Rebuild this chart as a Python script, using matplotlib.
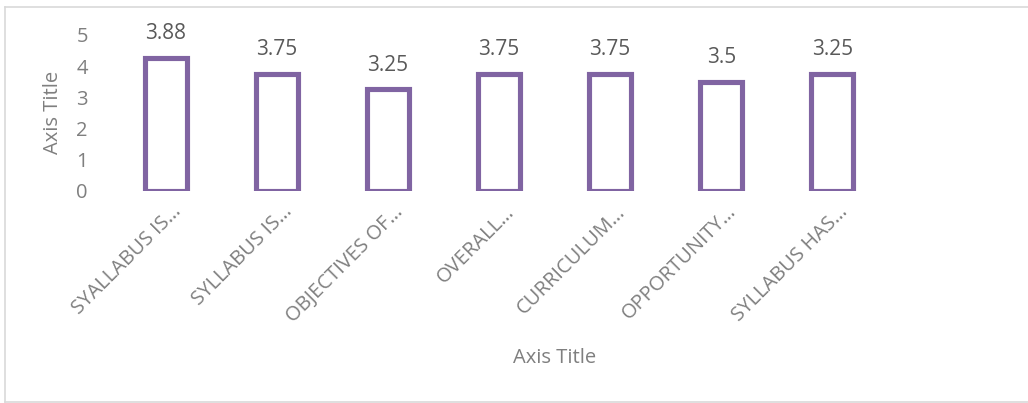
import matplotlib

matplotlib.use("Agg")

import matplotlib.pyplot as plt
from matplotlib.lines import Line2D

categories = [
    "SYALLABUS IS…",
    "SYLLABUS IS…",
    "OBJECTIVES OF…",
    "OVERALL…",
    "CURRICULUM…",
    "OPPORTUNITY…",
    "SYLLABUS HAS…",
]
bar_values = [4.25, 3.75, 3.25, 3.75, 3.75, 3.5, 3.75]
label_texts = ["3.88", "3.75", "3.25", "3.75", "3.75", "3.5", "3.25"]

PURPLE = "#8064A2"
GREY = "#7F7F7F"
DARK = "#595959"
W, H = 1028, 403

plt.rcParams["font.family"] = ["Open Sans", "DejaVu Sans"]

fig = plt.figure(figsize=(W / 100, H / 100), dpi=100)
ax = fig.add_axes([110.1 / W, 1 - 190.8 / H, (887.9 - 110.1) / W, (190.8 - 34.8) / H])

x = list(range(len(categories)))
ax.bar(x, bar_values, width=0.38, facecolor="white", edgecolor=PURPLE, linewidth=3.7)

for xi, v, t in zip(x, bar_values, label_texts):
    ax.annotate(t, xy=(xi, v), xytext=(0, 13.5), textcoords="offset points",
                ha="center", va="baseline", fontsize=15, color=DARK)

# category labels, rotated like the tick labels of the original
for xi, c in zip(x, categories):
    ax.annotate(c, xy=(xi, 0), xycoords=("data", "axes fraction"),
                xytext=(11.5, -15.5), textcoords="offset points",
                rotation=45, rotation_mode="anchor", ha="right", va="baseline",
                fontsize=14.5, color=GREY)

ax.set_xlim(-0.5, len(categories) - 0.5)
ax.set_ylim(0, 5)
ax.set_xticks(x)
ax.set_xticklabels([])
ax.set_yticks(range(6))
ax.tick_params(axis="both", length=0, labelsize=14.5, labelcolor=GREY)
ax.tick_params(axis="y", pad=16)
for s in ax.spines.values():
    s.set_visible(False)

ax.set_ylabel("Axis Title", fontsize=14.5, color=GREY)
ax.yaxis.set_label_coords((53 - 110.1) / (887.9 - 110.1), 0.5)
ax.yaxis.label.set_verticalalignment("center")
fig.text(554.7 / W, 1 - 362.7 / H, "Axis Title", ha="center", va="baseline",
         fontsize=14.5, color=GREY)

# chart border (left, top, bottom)
for xs, ys in [((4.7, 4.7), (6.5, 401.5)), ((4.7, W), (6.5, 6.5)), ((4.7, W), (401.5, 401.5))]:
    fig.add_artist(Line2D([xx / W for xx in xs], [1 - yy / H for yy in ys],
                          color="#D9D9D9", linewidth=1.2))

fig.savefig("out.png", dpi=100)
plt.close(fig)
